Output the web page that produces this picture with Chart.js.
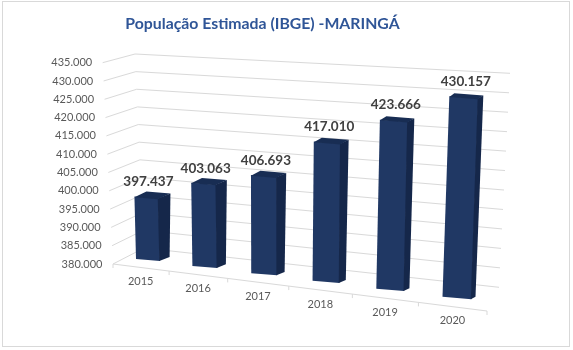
<!DOCTYPE html>
<html>
<head>
<meta charset="utf-8">
<script src="https://cdn.jsdelivr.net/npm/chart.js@4.4.1/dist/chart.umd.min.js"></script>
<style>
  html, body { margin: 0; padding: 0; background: #ffffff; }
  #wrap { width: 573px; height: 350px; }
</style>
</head>
<body>
<div id="wrap"><canvas id="c" width="573" height="350"></canvas></div>
<script>
// ---- data ----
const categories = ['2015', '2016', '2017', '2018', '2019', '2020'];
const population = [397437, 403063, 406693, 417010, 423666, 430157];
const yTickValues = [380000, 385000, 390000, 395000, 400000, 405000, 410000, 415000, 420000, 425000, 430000, 435000];
const chartTitle = 'População Estimada (IBGE) -MARINGÁ';

const yMin = yTickValues[0];
const yMax = yTickValues[yTickValues.length - 1];

function fmt(v) {
  return String(v).replace(/\B(?=(\d{3})+(?!\d))/g, '.');
}

// ---- perspective styling (Excel-like 3D look) ----
const P = {
  frontL0: 113, frontL1: 102.7,
  cornerX0: 144, cornerX1: 135, cornerY0: 248, cornerY1: 54,
  rightX0: 499, rightX1: 510, rightY0: 287.3, rightY1: 73.3,
  floorX0: 113, floorX1: 487, floorY0: 264, floorY1: 311,
  barX0: 148, barSpan: 309, barY0: 260, barSlope: 0.123,
  grid: '#D9D9D9',
  front: '#203864', side: '#15274A', top: '#182D53'
};
function persp(t, c) { return (1 - c) * t + c * t * t; }

const threeD = {
  id: 'threeD',
  beforeDraw(chart) {
    const ctx = chart.ctx;
    ctx.save();
    ctx.fillStyle = '#ffffff';
    ctx.fillRect(0, 0, chart.width, chart.height);
    ctx.strokeStyle = '#D9D9D9';
    ctx.lineWidth = 1;
    ctx.strokeRect(2.5, 1.5, 567, 345);
    ctx.restore();
  },
  beforeDatasetsDraw(chart) {
    const ctx = chart.ctx;
    const ys = chart.scales.y;
    const ca = chart.chartArea;
    ctx.save();

    // walls (gridlines)
    ctx.strokeStyle = P.grid;
    ctx.lineWidth = 1;
    yTickValues.forEach(v => {
      const u = (v - yMin) / (yMax - yMin);
      const fx = P.frontL0 + (P.frontL1 - P.frontL0) * u;
      const fy = ys.getPixelForValue(v);
      const cx = P.cornerX0 + (P.cornerX1 - P.cornerX0) * u;
      const cy = P.cornerY0 + (P.cornerY1 - P.cornerY0) * u;
      const rx = P.rightX0 + (P.rightX1 - P.rightX0) * u;
      const ry = P.rightY0 + (P.rightY1 - P.rightY0) * u;
      ctx.beginPath();
      ctx.moveTo(fx, fy);
      ctx.lineTo(cx, cy);
      ctx.lineTo(rx, ry);
      ctx.stroke();
    });

    // y tick labels
    ctx.fillStyle = '#595959';
    ctx.font = '11px Lato, "Liberation Sans", sans-serif';
    ctx.textAlign = 'right';
    ctx.textBaseline = 'middle';
    yTickValues.forEach(v => {
      const u = (v - yMin) / (yMax - yMin);
      const fx = P.frontL0 + (P.frontL1 - P.frontL0) * u;
      ctx.fillText(fmt(v), fx - 10.5, ys.getPixelForValue(v));
    });

    // floor front edge + category ticks + labels
    const n = categories.length;
    const floorY = x => P.floorY0 + (P.floorY1 - P.floorY0) * (x - P.floorX0) / (P.floorX1 - P.floorX0);
    const floorX = t => P.floorX0 + (P.floorX1 - P.floorX0) * persp(t, 0.12);
    ctx.beginPath();
    ctx.moveTo(P.floorX0, P.floorY0);
    ctx.lineTo(P.floorX1, P.floorY1);
    for (let j = 0; j <= n; j++) {
      const x = floorX(j / n);
      ctx.moveTo(x, floorY(x));
      ctx.lineTo(x, floorY(x) + 4);
    }
    ctx.stroke();
    ctx.textAlign = 'center';
    categories.forEach((c, i) => {
      const x = floorX((i + 0.5) / n);
      ctx.fillText(c, x, floorY(x) + 14);
    });

    // bars
    const meta = chart.getDatasetMeta(0);
    const pxPerUnit = (ys.getPixelForValue(yMin) - ys.getPixelForValue(yMax)) / (yMax - yMin);
    const labels = [];
    meta.data.forEach((el, i) => {
      const t = (el.x - ca.left) / ca.width;
      const s = (t - 0.5 / n) / ((n - 1) / n);
      const p = persp(s, 0.1);
      const X = P.barX0 + P.barSpan * p;
      const Yb = P.barY0 + P.barSlope * (X - P.barX0);
      const sy = ((3.58 + 0.42 * Math.pow(p, 1.5)) / 1000) / pxPerUnit;
      const sx = (24 + 5 * p) / el.width;
      const k = 0.08;
      const m = 0.025 - 0.059 * p;
      const a = sx, b = k * sx, c = m * sy, d = sy;
      const e = X - sx * el.x - m * sy * el.base;
      const f = Yb - k * sx * el.x - sy * el.base;
      const map = (x, y) => [a * x + c * y + e, b * x + d * y + f];
      const l = el.x - el.width / 2, r = el.x + el.width / 2;
      const TL = map(l, el.y), TR = map(r, el.y), BR = map(r, el.base);
      const dx = 12 - 7 * p, dy = -5 + 2 * p;
      const ov = 0.7; // overlap to hide anti-aliasing seams

      // front face drawn by the Chart.js bar element
      ctx.save();
      ctx.setTransform(a, b, c, d, e, f);
      el.draw(ctx);
      ctx.restore();

      // side face
      ctx.fillStyle = P.side;
      ctx.beginPath();
      ctx.moveTo(TR[0] - ov, TR[1]);
      ctx.lineTo(TR[0] + dx, TR[1] + dy);
      ctx.lineTo(BR[0] + dx * 0.8, BR[1] + dy * 0.8);
      ctx.lineTo(BR[0] - ov, BR[1]);
      ctx.closePath();
      ctx.fill();
      // top face
      ctx.fillStyle = P.top;
      ctx.beginPath();
      ctx.moveTo(TL[0], TL[1] + ov);
      ctx.lineTo(TL[0] + dx, TL[1] + dy);
      ctx.lineTo(TR[0] + dx, TR[1] + dy);
      ctx.lineTo(TR[0] - ov, TR[1] + ov);
      ctx.closePath();
      ctx.fill();

      labels.push({ x: (TL[0] + TR[0]) / 2 + 2, y: Math.min(TL[1], TR[1]) - 14.5, v: population[i] });
    });

    // data labels
    ctx.fillStyle = '#404040';
    ctx.font = 'bold 13.5px Lato, "Liberation Sans", sans-serif';
    ctx.textAlign = 'center';
    ctx.textBaseline = 'middle';
    labels.forEach(L => ctx.fillText(fmt(L.v), L.x, L.y));

    ctx.restore();
    return false;
  }
};

new Chart(document.getElementById('c'), {
  type: 'bar',
  data: {
    labels: categories,
    datasets: [{
      label: 'População',
      data: population,
      base: yMin,
      backgroundColor: P.front,
      borderWidth: 0,
      barPercentage: 0.5,
      categoryPercentage: 1
    }]
  },
  options: {
    responsive: false,
    animation: false,
    devicePixelRatio: 1,
    layout: { padding: { left: 103, right: 151, top: 0, bottom: 86 } },
    scales: {
      x: { display: false },
      y: {
        display: false,
        min: yMin,
        max: yMax,
        afterBuildTicks: (scale) => { scale.ticks = yTickValues.map(v => ({ value: v })); }
      }
    },
    plugins: {
      legend: { display: false },
      tooltip: { enabled: false },
      title: {
        display: true,
        text: chartTitle,
        color: '#2F5597',
        font: { family: 'Lato, "Liberation Sans", sans-serif', size: 15.8, weight: 'bold', lineHeight: 1.2 },
        padding: { top: 14.5, bottom: 29.2 }
      }
    }
  },
  plugins: [threeD]
});
</script>
</body>
</html>
